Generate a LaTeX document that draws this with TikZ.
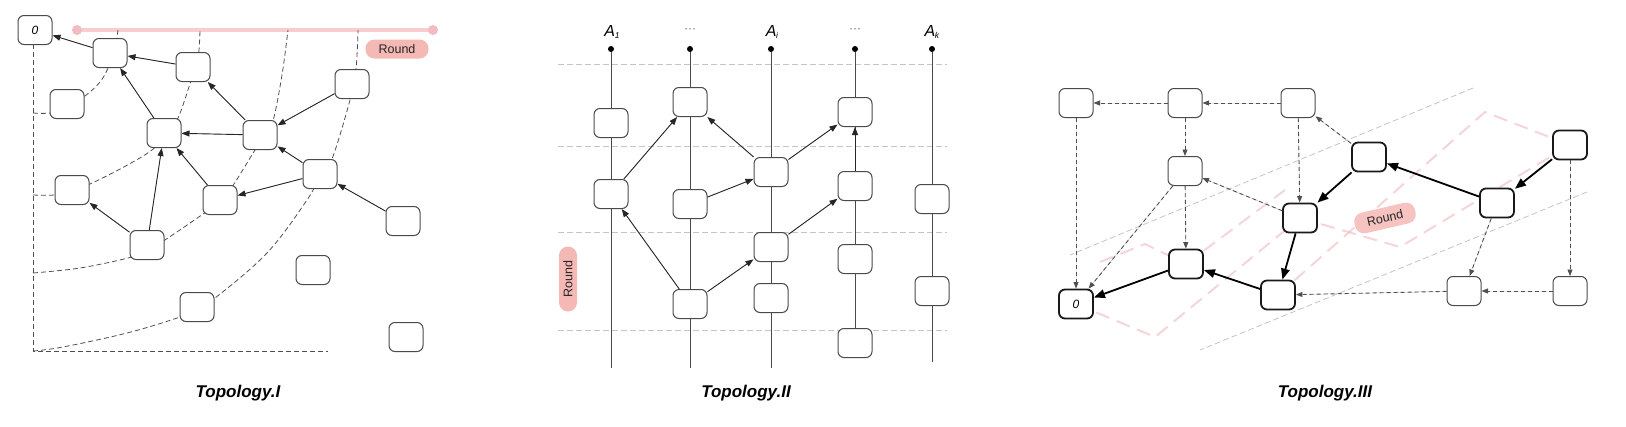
\documentclass[tikz,border=0pt]{standalone}
\usepackage{fontspec}
\setmainfont{Liberation Sans}
\usetikzlibrary{arrows.meta}
\definecolor{nodeline}{HTML}{4A4A4A}
\definecolor{pinkfill}{HTML}{F5B9B5}
\definecolor{pinkline}{HTML}{F8CDD0}
\definecolor{pinkdot}{HTML}{F2BCC0}
\definecolor{pinkdash}{HTML}{EBB3B8}
\definecolor{gridc}{HTML}{C4C4C4}
\definecolor{darkdash}{HTML}{505050}
\newcommand{\Asub}[1]{\textit{A}\kern-0.3pt\raisebox{-2pt}{\fontsize{8.5}{8.5}\selectfont\textit{#1}}}
\begin{document}
\begin{tikzpicture}[x=1pt,y=-1pt,
  box/.style={draw=nodeline, fill=white, line width=1pt, rounded corners=6pt, minimum width=34pt, minimum height=29pt, inner sep=0pt, font=\fontsize{12}{12}\selectfont\itshape},
  boldbox/.style={box, draw=black!90, line width=1.8pt},
  arr/.style={-{Triangle[length=8pt,width=6pt]}, line width=0.9pt, draw=black!85, fill=black!85},
  dasharr/.style={-{Triangle[length=6.5pt,width=5pt]}, line width=0.9pt, draw=darkdash, fill=darkdash, dash pattern=on 4pt off 3pt},
  boldarr/.style={-{Triangle[length=11pt,width=8.5pt]}, line width=1.8pt, draw=black, fill=black},
  levelc/.style={draw=darkdash, line width=0.8pt, dash pattern=on 5pt off 3pt},
  gridl/.style={draw=gridc, line width=0.8pt, dash pattern=on 6pt off 3pt},
  pinkd/.style={draw=pinkdash, line width=2pt, dash pattern=on 14pt off 8pt, opacity=0.55},
  pill/.style={fill=pinkfill, rounded corners=9pt, minimum width=63pt, minimum height=19pt, inner sep=0pt, font=\fontsize{12.5}{12.5}\selectfont, text=black!85},
  title/.style={font=\fontsize{17}{17}\selectfont\bfseries\itshape},
  colline/.style={draw=nodeline, line width=0.9pt},
  dotn/.style={circle, fill=black, inner sep=0pt, minimum size=6pt},
  alabel/.style={font=\fontsize{16}{16}\selectfont},
  ellab/.style={font=\fontsize{12}{12}\selectfont, text=black!60},
]
\useasboundingbox (0,0) rectangle (1626,426);

% ================= Topology I =================
\coordinate (rl) at (77,30);
\coordinate (rr) at (433,30);
\draw[pinkline, line width=3.5pt] (rl) -- (rr);
\fill[pinkdot] (rl) circle (5pt);
\fill[pinkdot] (rr) circle (5pt);
\node[pill] (round1) at (397,49) {Round};

\coordinate (ax0) at (33,44);
\coordinate (axc) at (33,351);
\coordinate (axr) at (328,351);
\draw[levelc] (ax0) -- (axc) -- (axr);
\draw[levelc] plot[smooth, tension=0.6] coordinates {(33,113) (50,113) (67,108) (85,96) (100,82) (109,66) (115,48) (118,30)};
\draw[levelc] plot[smooth, tension=0.6] coordinates {(33,195) (54,195) (72,191) (90,184) (122,168) (152,150) (166,134) (178,118) (190,84) (196,67) (199,50) (200,30)};
\draw[levelc] plot[smooth, tension=0.6] coordinates {(33,273) (80,268) (128,258) (147,251) (165,240) (203,214) (220,201) (232,187) (255,150) (265,135) (273,121) (282,75) (288,30)};
\draw[levelc] plot[smooth, tension=0.6] coordinates {(33,351) (63,347) (127,333) (180,317) (197,308) (215,298) (267,253) (307,200) (320,176) (332,159) (350,100) (356,69) (358,30)};

\node[box] (n0) at (35,30) {0};
\node[box] (A) at (110,53) {};
\node[box] (B) at (193,67) {};
\node[box] (C) at (352,84) {};
\node[box] (D) at (67,104) {};
\node[box] (E) at (164,133) {};
\node[box] (F) at (260,135) {};
\node[box] (G) at (320,174) {};
\node[box] (H) at (72,190) {};
\node[box] (I) at (220,200) {};
\node[box] (J) at (403,221) {};
\node[box] (K) at (147,245) {};
\node[box] (L) at (313,270) {};
\node[box] (M) at (197,307) {};
\node[box] (N) at (406,337) {};

\draw[arr] (A) -- (n0);
\draw[arr] (B) -- (A);
\draw[arr] (E) -- (A);
\draw[arr] (F) -- (B);
\draw[arr] (F) -- (E);
\draw[arr] (C) -- (F);
\draw[arr] (G) -- (F);
\draw[arr] (G) -- (I);
\draw[arr] (J) -- (G);
\draw[arr] (I) -- (E);
\draw[arr] (K) -- (E);
\draw[arr] (K) -- (H);

\node[title] (t1) at (238,393) {Topology.I};

% ================= Topology II =================
\foreach \yy/\nm in {64/g1,146/g2,232/g3,330/g4}{
  \coordinate (\nm l) at (558,\yy);
  \coordinate (\nm r) at (947,\yy);
  \draw[gridl] (\nm l) -- (\nm r);
}
\node[dotn] (d1) at (611,49) {};
\node[dotn] (d2) at (690,49) {};
\node[dotn] (d3) at (771,49) {};
\node[dotn] (d4) at (855,49) {};
\node[dotn] (d5) at (932,49) {};
\coordinate (e1) at (611,368);
\coordinate (e2) at (690,368);
\coordinate (e3) at (771,368);
\coordinate (e4) at (855,343);
\coordinate (e5) at (932,362);
% column lines (behind the nodes)
\draw[colline] (d1) -- (e1);
\draw[colline] (d2) -- (e2);
\draw[colline] (d3) -- (e3);
\draw[colline] (d4) -- (e4);
\draw[colline] (d5) -- (e5);

\node[alabel] (la1) at (612,32) {\Asub{1}};
\node[ellab] (la2) at (690,31) {···};
\node[alabel] (la3) at (772,32) {\Asub{i}};
\node[ellab] (la4) at (855,31) {···};
\node[alabel] (la5) at (932,32) {\Asub{k}};

\node[box] (a) at (611,123) {};
\node[box] (b) at (611,194) {};
\node[box] (c) at (690,102) {};
\node[box] (d) at (690,204) {};
\node[box] (e) at (771,172) {};
\node[box] (f) at (855,112) {};
\node[box] (g) at (855,186) {};
\node[box] (h) at (932,199) {};
\node[box] (i) at (690,304) {};
\node[box] (j) at (771,247) {};
\node[box] (k) at (771,298) {};
\node[box] (l) at (855,259) {};
\node[box] (m) at (855,343) {};
\node[box] (n) at (932,291) {};

\draw[arr] (b) -- (c);
\draw[arr] (e) -- (c);
\draw[arr] (d) -- (e);
\draw[arr] (e) -- (f);
\draw[arr] (g) -- (f);
\draw[arr] (i) -- (b);
\draw[arr] (i) -- (j);
\draw[arr] (j) -- (g);

\node[pill, rotate=90, minimum width=65pt, minimum height=18pt] (round2) at (568,279) {Round};
\node[title] (t2) at (746,393) {Topology.II};

% ================= Topology III =================
\coordinate (gA1) at (1473,88);
\coordinate (gA2) at (1070,255);
\coordinate (gB1) at (1587,192);
\coordinate (gB2) at (1200,350);
\draw[gridl] (gA1) -- (gA2);
\draw[gridl] (gB1) -- (gB2);

\coordinate (zc) at (1076,304);
\coordinate (r1c) at (1186,264);
\coordinate (r2c) at (1278,295);
\coordinate (q1c) at (1300,218);
\coordinate (q3c) at (1570,145);
\draw[pinkd] (zc) -- (1155,337) -- (q1c);
\draw[pinkd] (1100,262) -- (1145,244) -- (r1c);
\draw[pinkd] (r1c) -- (1285,190);
\draw[pinkd] (q1c) -- (1400,247) -- (q3c);
\draw[pinkd] (r2c) -- (1485,112) -- (q3c);

\node[box] (p1) at (1076,103) {};
\node[box] (p2) at (1185,103) {};
\node[box] (p3) at (1298,103) {};
\node[box] (p4) at (1185,171) {};
\node[box] (s1) at (1464,291) {};
\node[box] (s2) at (1570,291) {};
\node[boldbox] (q1) at (1300,218) {};
\node[boldbox] (q2) at (1369,157) {};
\node[boldbox] (q3) at (1570,145) {};
\node[boldbox] (q4) at (1497,203) {};
\node[boldbox] (zz) at (1076,304) {0};
\node[boldbox] (r1) at (1186,264) {};
\node[boldbox] (r2) at (1278,295) {};

\draw[dasharr] (p2) -- (p1);
\draw[dasharr] (p3) -- (p2);
\draw[dasharr] (p2) -- (p4);
\draw[dasharr] (p1) -- (zz);
\draw[dasharr] (p3) -- (q1);
\draw[dasharr] (q2) -- (p3);
\draw[dasharr] (q1) -- (p4);
\draw[dasharr] (p4) -- (r1);
\draw[dasharr] (p4) -- (zz);
\draw[dasharr] (s1) -- (r2);
\draw[dasharr] (s2) -- (s1);
\draw[dasharr] (q3) -- (s2);
\draw[dasharr] (q4) -- (s1);

\draw[boldarr] (q3) -- (q4);
\draw[boldarr] (q4) -- (q2);
\draw[boldarr] (q2) -- (q1);
\draw[boldarr] (q1) -- (r2);
\draw[boldarr] (r2) -- (r1);
\draw[boldarr] (r1) -- (zz);

\node[pill, rotate=13, minimum width=62pt, minimum height=21pt, fill=pinkfill!85] (round3) at (1385,218) {Round};
\node[title] (t3) at (1325,393) {Topology.III};
\end{tikzpicture}
\end{document}
